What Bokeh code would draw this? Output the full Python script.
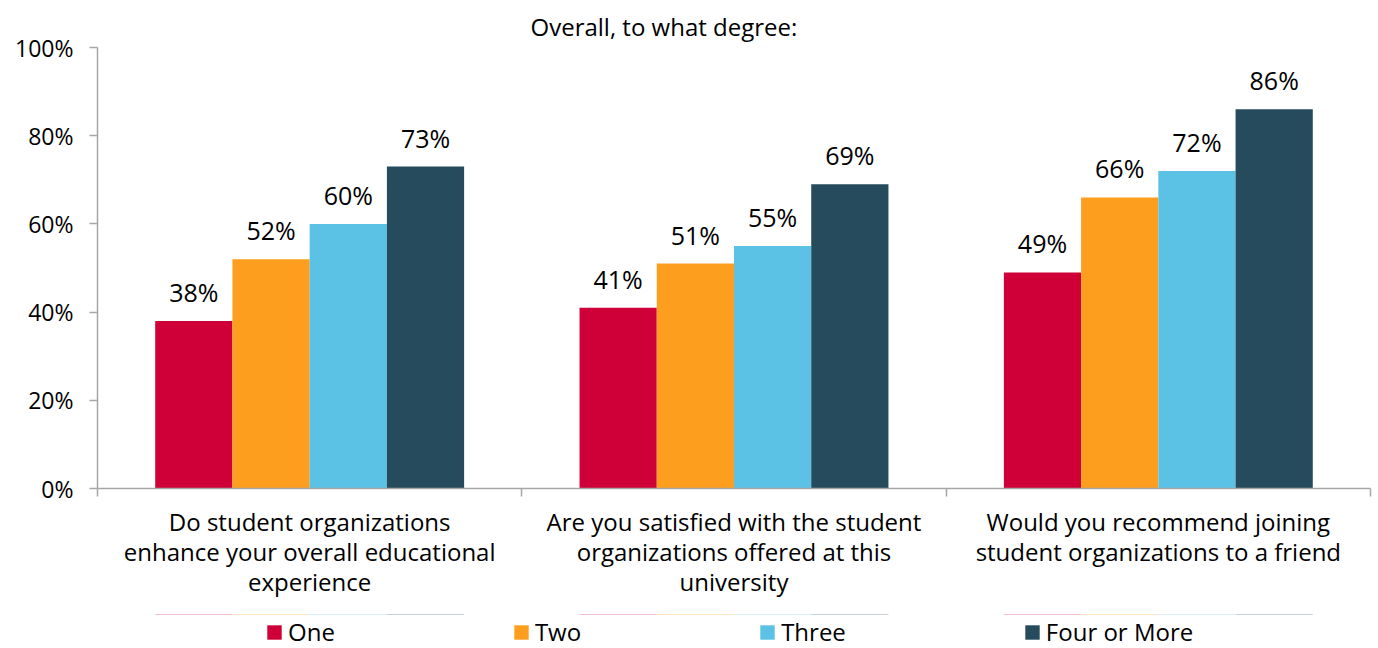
from bokeh.plotting import figure
from bokeh.layouts import column
from bokeh.models import (ColumnDataSource, FixedTicker, Legend, LegendItem,
                          Range1d, LabelSet, Title)
from bokeh.core.properties import value
from bokeh.transform import dodge
from bokeh.embed import file_html
from bokeh.resources import INLINE

questions = [
    "Do student organizations\nenhance your overall educational\nexperience",
    "Are you satisfied with the student\norganizations offered at this\nuniversity",
    "Would you recommend joining\nstudent organizations to a friend",
]
series_names = ["One", "Two", "Three", "Four or More"]
one = [38, 41, 49]
two = [52, 51, 66]
three = [60, 55, 72]
four = [73, 69, 86]
colors = ["#CE0037", "#FD9E1F", "#5BC2E6", "#264B5C"]
tick_values = [0, 20, 40, 60, 80, 100]

FONT = "Open Sans"
W = 0.182
centers = [i + 0.5 for i in range(len(questions))]
src = ColumnDataSource(dict(x=centers, one=one, two=two, three=three, four=four,
                            one_t=[f"{v}%" for v in one],
                            two_t=[f"{v}%" for v in two],
                            three_t=[f"{v}%" for v in three],
                            four_t=[f"{v}%" for v in four]))

p = figure(width=1378, height=614, output_backend="svg", toolbar_location=None,
           x_range=Range1d(0, 3), y_range=Range1d(0, 100),
           min_border_left=97, min_border_right=8, min_border_top=47, min_border_bottom=126)
p.title = Title(text="Overall, to what degree:", align="left", offset=433,
                text_font=FONT, text_font_size="24px", text_font_style="normal",
                text_color="#000000", standoff=10)
p.outline_line_color = None
p.grid.grid_line_color = None
p.background_fill_color = "white"
p.border_fill_color = "white"

keys = ["one", "two", "three", "four"]
offsets = [-1.5 * W, -0.5 * W, 0.5 * W, 1.5 * W]
for k, off, c in zip(keys, offsets, colors):
    p.vbar(x=dodge("x", off, range=p.x_range), top=k, width=W, source=src,
           fill_color=c, line_color=None)
    lbl = LabelSet(x=dodge("x", off, range=p.x_range), y=k, text=k + "_t", source=src,
                   text_align="center", text_baseline="alphabetic", y_offset=19,
                   text_font=value(FONT), text_font_size="25px", text_color="#000000")
    p.add_layout(lbl)

# y axis
ya = p.yaxis[0]
ya.ticker = FixedTicker(ticks=tick_values, minor_ticks=[])
ya.major_label_overrides = {v: f"{v}%" for v in tick_values}
ya.major_label_text_font = FONT
ya.major_label_text_font_size = "23px"
ya.major_label_text_color = "#000000"
ya.axis_line_color = "#A6A6A6"
ya.axis_line_width = 1.5
ya.major_tick_line_color = "#A6A6A6"
ya.major_tick_line_width = 1.5
ya.major_tick_out = 8
ya.major_tick_in = 0
ya.minor_tick_line_color = None
ya.major_label_standoff = 16

# x axis
xa = p.xaxis[0]
xa.ticker = FixedTicker(ticks=centers, minor_ticks=[0, 1, 2, 3])
xa.major_label_overrides = {c: q for c, q in zip(centers, questions)}
xa.major_label_text_font = FONT
xa.major_label_text_font_size = "24px"
xa.major_label_text_color = "#000000"
xa.major_label_text_line_height = 0.92
xa.axis_line_color = "#A6A6A6"
xa.axis_line_width = 1.5
xa.major_tick_line_color = None
xa.major_tick_out = 8
xa.major_tick_in = 0
xa.minor_tick_line_color = "#A6A6A6"
xa.minor_tick_line_width = 1.5
xa.minor_tick_out = 8
xa.minor_tick_in = 0
xa.major_label_standoff = 8

# legend strip below the chart (its bars lie outside its visible y range)
leg = figure(width=1378, height=34, output_backend="svg", toolbar_location=None,
             x_range=Range1d(0, 3), y_range=Range1d(-2, -1), min_border=0,
             x_axis_location=None, y_axis_location=None)
leg.grid.grid_line_color = None
leg.outline_line_color = None
leg.background_fill_color = "white"
leg.border_fill_color = "white"
items = []
for k, off, c, name in zip(keys, offsets, colors, series_names):
    r = leg.vbar(x=dodge("x", off, range=leg.x_range), top=k, width=W, source=src,
                 fill_color=c, line_color=None)
    items.append(LegendItem(label=name, renderers=[r]))
legend = Legend(items=items, orientation="horizontal", location=(168, 0),
                label_text_font=FONT, label_text_font_size="24px",
                label_text_color="#000000", glyph_width=18, glyph_height=18,
                spacing=177, label_standoff=5, border_line_color=None,
                padding=0, margin=0, background_fill_alpha=0)
leg.add_layout(legend, "center")

layout = column(p, leg, spacing=0)
open("out.html", "w").write(file_html(layout, INLINE))
